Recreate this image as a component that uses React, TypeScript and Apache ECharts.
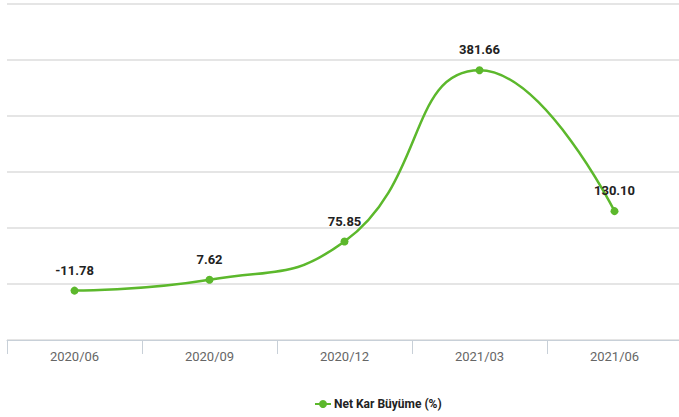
import React, { useEffect, useRef } from "react";
import * as echarts from "echarts";

const categories = ["2020/06", "2020/09", "2020/12", "2021/03", "2021/06"];
const values = [-11.78, 7.62, 75.85, 381.66, 130.1];
const seriesName = "Net Kar Büyüme (%)";

const FONT = "Roboto, 'Liberation Sans', sans-serif";

export default function App() {
  const ref = useRef<HTMLDivElement>(null);
  useEffect(() => {
    if (!ref.current) return;
    const chart = echarts.init(ref.current, null, { renderer: "svg" });
    chart.setOption({
      animation: false,
      backgroundColor: "#ffffff",
      grid: { left: 7, top: 4, width: 675, height: 336, containLabel: false },
      legend: {
        top: 393,
        left: 309,
        itemWidth: 16,
        itemHeight: 10,
        itemGap: 6,
        textStyle: { fontFamily: FONT, fontWeight: "bold", fontSize: 12, color: "#222", padding: [0, 0, 0, -2] },
        data: [seriesName],
      },
      xAxis: {
        type: "category",
        data: categories,
        boundaryGap: true,
        axisLine: { onZero: false, lineStyle: { color: "#c8d0d8", width: 1 } },
        axisTick: { show: true, length: 14, lineStyle: { color: "#c8d0d8" } },
        axisLabel: { color: "#666", fontFamily: FONT, fontSize: 13, margin: 10 },
      },
      yAxis: {
        type: "value",
        min: -100,
        max: 500,
        interval: 100,
        axisLabel: { show: false },
        axisLine: { show: false },
        axisTick: { show: false },
        splitLine: { lineStyle: { color: "#dcdcdc", width: 1.5 } },
      },
      series: [
        {
          name: seriesName,
          type: "line",
          data: values,
          smooth: true,
          symbol: "circle",
          symbolSize: 8,
          itemStyle: { color: "#5cb82c" },
          lineStyle: { color: "#5cb82c", width: 2.5 },
          label: {
            show: true,
            position: "top",
            distance: 10,
            formatter: (p: any) => p.value.toFixed(2),
            color: "#222",
            fontFamily: FONT,
            fontWeight: "bold",
            fontSize: 13,
          },
        },
      ],
    });
    return () => chart.dispose();
  }, []);
  return (
    <div style={{ position: "absolute", left: 0, top: 0, width: 679, height: 417, overflow: "hidden" }}>
      <div ref={ref} style={{ width: 690, height: 417 }} />
    </div>
  );
}
